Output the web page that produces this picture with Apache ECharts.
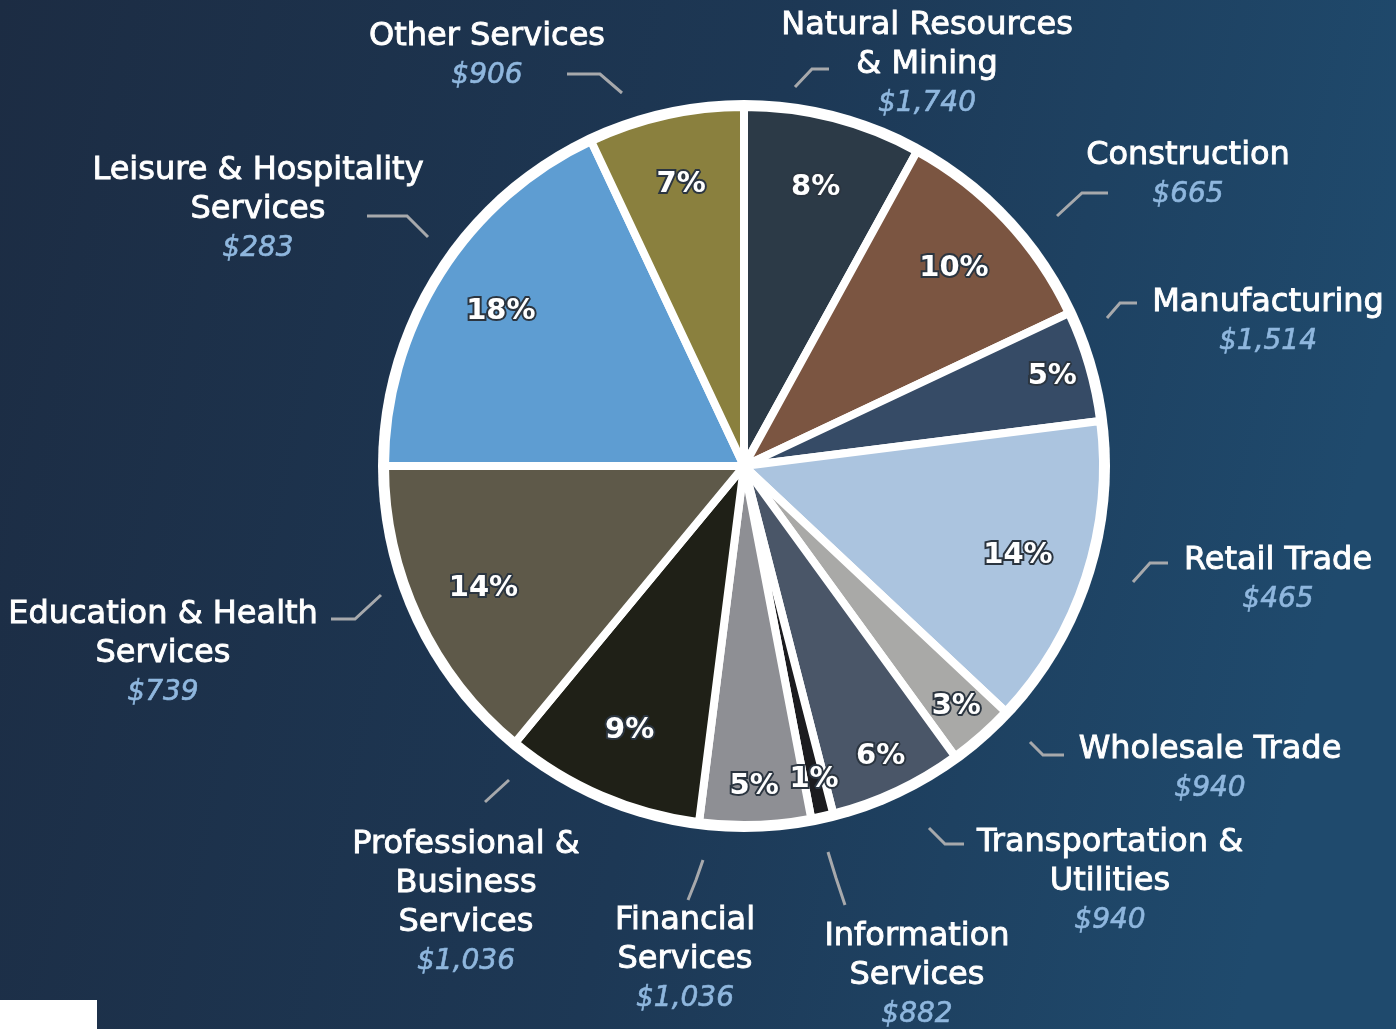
<!DOCTYPE html>
<html>
<head>
<meta charset="utf-8">
<script src="https://cdn.jsdelivr.net/npm/echarts@6/dist/echarts.min.js"></script>
<style>
  html, body { margin: 0; padding: 0; }
  #chart { width: 1396px; height: 1029px; }
</style>
</head>
<body>
<div id="chart"></div>
<script>
// sectors, clockwise from 12 o'clock
const categories = [
    'Natural Resources\n& Mining',
    'Construction',
    'Manufacturing',
    'Retail Trade',
    'Wholesale Trade',
    'Transportation &\nUtilities',
    'Information\nServices',
    'Financial\nServices',
    'Professional &\nBusiness\nServices',
    'Education & Health\nServices',
    'Leisure & Hospitality\nServices',
    'Other Services'
];
const shares = [8, 10, 5, 14, 3, 6, 1, 5, 9, 14, 18, 7];
const wages = ['$1,740', '$665', '$1,514', '$465', '$940', '$940', '$882', '$1,036', '$1,036', '$739', '$283', '$906'];
const colors = [
    '#2c3a47', '#7b5541', '#364b66', '#abc4df', '#a9a9a7', '#4a5668',
    '#1c1c1f', '#8e8f94', '#1f2017', '#5e5949', '#5e9dd2', '#8a803e'
];

// where the outside labels sit (top centre of each text block) and their connector lines
const labelSpots = [
    [927, 6], [1188, 136], [1268, 283], [1278, 541], [1210, 730], [1110, 823],
    [917, 917], [685, 901], [466, 825], [163, 595], [258, 151], [487, 17]
];
const guideLines = [
    [[795, 87], [812, 69], [829, 69]],
    [[1057, 216], [1082, 193], [1108, 193]],
    [[1107, 318], [1120, 303], [1137, 303]],
    [[1133, 582], [1150, 563], [1168, 563]],
    [[1030, 742], [1043, 755], [1064, 755]],
    [[929, 828], [945, 844], [964, 844]],
    [[828, 852], [836, 878], [845, 905]],
    [[703, 860], [696, 880], [688, 900]],
    [[509, 780], [497, 791], [485, 802]],
    [[331, 619], [355, 619], [381, 595]],
    [[367, 216], [407, 216], [428, 237]],
    [[567, 74], [600, 74], [622, 93]]
];

const FONT = '"DejaVu Sans", sans-serif';
const center = [744, 466];

const chart = echarts.init(document.getElementById('chart'));

const data = categories.map((name, i) => ({
    name: name,
    value: shares[i],
    itemStyle: { color: colors[i] }
}));

const pctLabel = {
    position: 'inside',
    formatter: '{c}%',
    fontFamily: FONT,
    fontSize: 29,
    fontWeight: 'bold',
    color: '#ffffff',
    textBorderColor: '#2b3540',
    textBorderWidth: 4
};

// ring used only to place the percentage labels; wide slices sit nearer the middle
const pctRing = (radius, showIf) => ({
    type: 'pie',
    silent: true,
    center: center,
    radius: radius,
    startAngle: 90,
    clockwise: true,
    itemStyle: { color: 'transparent' },
    label: Object.assign({ show: true }, pctLabel),
    labelLine: { show: false },
    data: shares.map(v => ({ value: v, label: { show: showIf(v) } }))
});

const option = {
    animation: false,
    backgroundColor: new echarts.graphic.LinearGradient(0, 0, 1, 0.3, [
        { offset: 0, color: '#1c2c43' },
        { offset: 0.55, color: '#1d3855' },
        { offset: 1, color: '#1f4a6d' }
    ]),
    graphic: [
        {
            type: 'rect',
            left: 0,
            top: 1000,
            shape: { width: 97, height: 29 },
            style: { fill: '#ffffff' }
        }
    ],
    series: [
        {
            // white plate behind the slices
            type: 'pie',
            silent: true,
            center: center,
            radius: [0, 366],
            label: { show: false },
            labelLine: { show: false },
            data: [{ value: 1, itemStyle: { color: '#ffffff' } }]
        },
        {
            type: 'pie',
            center: center,
            radius: [0, 359],
            startAngle: 90,
            clockwise: true,
            itemStyle: {
                borderColor: '#ffffff',
                borderWidth: 8
            },
            label: {
                show: true,
                position: 'outside',
                fontFamily: FONT,
                formatter: p => {
                    const lines = p.name.split('\n').map(s => `{n|${s}}`);
                    lines.push(`{v|${wages[p.dataIndex]}}`);
                    return lines.join('\n');
                },
                rich: {
                    n: {
                        fontFamily: FONT,
                        fontSize: 32,
                        fontWeight: 'normal',
                        color: '#ffffff',
                        textBorderColor: '#ffffff',
                        textBorderWidth: 0.9,
                        lineHeight: 39,
                        align: 'center'
                    },
                    v: {
                        fontFamily: FONT,
                        fontSize: 28,
                        fontStyle: 'italic',
                        color: '#8fb7de',
                        textBorderColor: '#8fb7de',
                        textBorderWidth: 0.6,
                        lineHeight: 40,
                        align: 'center'
                    }
                }
            },
            labelLine: {
                show: true,
                lineStyle: { color: '#a7a9ac', width: 3 }
            },
            labelLayout: params => {
                const i = params.dataIndex;
                return {
                    x: labelSpots[i][0],
                    y: labelSpots[i][1],
                    align: 'center',
                    verticalAlign: 'top',
                    labelLinePoints: guideLines[i]
                };
            },
            data: data
        },
        pctRing([205, 365], v => v >= 7),
        pctRing([270, 366], v => v < 7)
    ]
};

chart.setOption(option);
</script>
</body>
</html>
